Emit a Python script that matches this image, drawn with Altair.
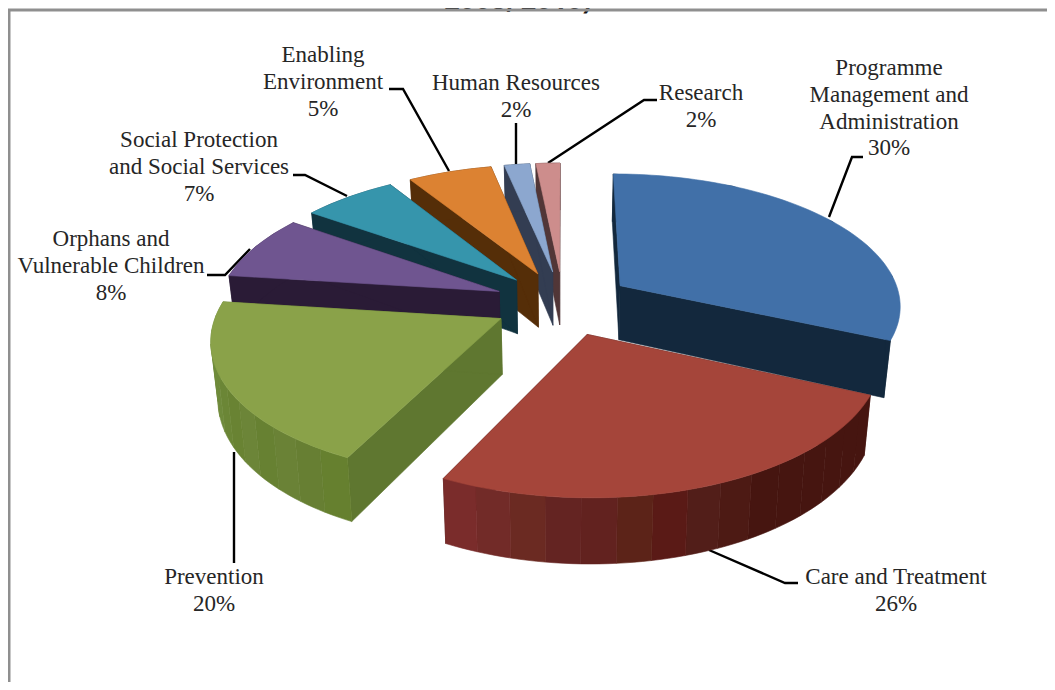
import math
import altair as alt
import pandas as pd

# Slice shares as drawn (in clockwise order from 12 o'clock)
slice_names = ["Programme", "Care", "Prevention", "Orphans", "Social", "Enabling", "Human", "Research"]
slice_shares = [31.7, 25.6, 19.7, 7.8, 6.3, 5.6, 1.7, 1.6]
top_colors = ["#4170a8", "#a5453a", "#8aa249", "#6f5590", "#3695ac", "#dc8232", "#8ca7cf", "#cd8d8c"]
wall_colors = ["#13283d", "#461510", "#5f7730", "#2a1b36", "#11333f", "#552e08", "#333d52", "#513637"]
outer_bands = {
    "Care": ["#461510", "#461510", "#461510", "#461510", "#461510", "#461510", "#4d1a14", "#521e19", "#5a1a16",
             "#5c2318", "#62221f", "#642422", "#6b2a22", "#722b28", "#7a2c2b"],
    "Prevention": ["#66802f", "#677f33", "#6a8236", "#678132", "#6c8538", "#698333", "#6b8636", "#6e8a3b",
                   "#6e8838", "#6f8b3b", "#6f8b3b", "#6f8b3b"],
}
draw_order = ["Research", "Human", "Enabling", "Social", "Orphans", "Programme", "Prevention", "Care"]

# Projection of the tilted pie
CX, CY, AX, BY, PERSP, DEPTH, SHRINK, EXPLODE = 563, 303, 281.5, 131.5, 0.137, 55, 0.98, 0.246


def project(X, Y, bottom=False):
    s = 1 / (1 - PERSP * Y)
    x = AX * X * s
    y = CY + BY * Y * s
    if bottom:
        x *= SHRINK
        y += DEPTH * s
    return CX + x, y


def rad(deg):
    return math.radians(deg)


rows = []
face_id = [0]


def add_face(points, color):
    fid = face_id[0]
    face_id[0] += 1
    for i, (x, y) in enumerate(points):
        rows.append({"x": x, "y": y, "i": i, "face": f"f{fid:03d}", "col": color})


bounds = {}
acc = 0.0
for n, v in zip(slice_names, slice_shares):
    bounds[n] = (acc * 3.6, (acc + v) * 3.6)
    acc += v

for n in draw_order:
    idx = slice_names.index(n)
    a0, a1 = bounds[n]
    mid = rad((a0 + a1) / 2)
    ox, oy = EXPLODE * math.sin(mid), -EXPLODE * math.cos(mid)

    def pt(deg, r=1.0):
        return ox + r * math.sin(rad(deg)), oy - r * math.cos(rad(deg))

    steps = max(2, int((a1 - a0) / 1.5))
    angs = [a0 + (a1 - a0) * k / steps for k in range(steps + 1)]
    for d in (a0, a1):
        add_face([project(ox, oy), project(*pt(d)), project(*pt(d), True), project(ox, oy, True)], wall_colors[idx])
    bands = outer_bands.get(n, [wall_colors[idx]])
    for b, c in enumerate(bands):
        b0 = a0 + (a1 - a0) * b / len(bands)
        b1 = a0 + (a1 - a0) * (b + 1) / len(bands)
        seg = [b0 + (b1 - b0) * k / 4 for k in range(5)]
        add_face([project(*pt(d)) for d in seg] + [project(*pt(d), True) for d in reversed(seg)], c)
    add_face([project(ox, oy)] + [project(*pt(d)) for d in angs], top_colors[idx])

faces = pd.DataFrame(rows)

# Labels
label_x = [889, 896, 214, 111, 199, 323, 516, 701]
label_lines = [
    ["Programme", "Management and", "Administration", "30%"],
    ["Care and Treatment", "26%"],
    ["Prevention", "20%"],
    ["Orphans and", "Vulnerable Children", "8%"],
    ["Social Protection", "and Social Services", "7%"],
    ["Enabling", "Environment", "5%"],
    ["Human Resources", "2%"],
    ["Research", "2%"],
]
label_top = [68, 577, 577, 239, 140, 55, 83, 93]
line_step = 26.8
text_rows = []
for lx, ly, lines in zip(label_x, label_top, label_lines):
    for k, t in enumerate(lines):
        text_rows.append({"x": lx, "y": ly + k * line_step, "t": t})
labels = pd.DataFrame(text_rows)

leaders = [
    [(829, 217), (852, 157), (863, 157)],
    [(709, 550), (785, 583), (798, 583)],
    [(234, 452), (234, 563)],
    [(250, 249), (225, 275), (207, 275)],
    [(347, 196), (305, 175), (293, 175)],
    [(449, 171), (403, 89), (389, 89)],
    [(516, 164), (516, 123)],
    [(548, 163), (644, 100), (657, 100)],
]
lead_rows = []
for j, path in enumerate(leaders):
    for i, (x, y) in enumerate(path):
        lead_rows.append({"x": x, "y": y, "i": i, "leader": j})
lead = pd.DataFrame(lead_rows)

frame = pd.DataFrame({"x": [9, 9, 1047], "y": [682, 10, 10], "i": [0, 1, 2]})
title = pd.DataFrame({"x": [518], "y": [9], "t": ["2008, 2010)"]})

xs = alt.Scale(domain=[8, 1047], range=[0, 1039])
ys = alt.Scale(domain=[682, 8], range=[674, 0])
X = alt.X("x:Q", scale=xs, axis=None)
Y = alt.Y("y:Q", scale=ys, axis=None)

title_layer = alt.Chart(title).mark_text(font="Open Sans", fontWeight="bold", fontSize=27, baseline="alphabetic",
                                         color="#111111").encode(X, Y, text="t:N")
frame_layer = alt.Chart(frame).mark_line(color="#8f8f8f", strokeWidth=3).encode(X, Y, order="i:Q")
pie_layer = alt.Chart(faces).mark_line(strokeWidth=0.6, interpolate="linear-closed").encode(
    X, Y, order="i:Q", detail="face:N",
    color=alt.Color("col:N", scale=None, legend=None),
    fill=alt.Fill("col:N", scale=None, legend=None),
)
lead_layer = alt.Chart(lead).mark_line(color="#000000", strokeWidth=2.4).encode(X, Y, order="i:Q", detail="leader:N")
text_layer = alt.Chart(labels).mark_text(font="Liberation Serif", fontSize=23, color="#262626",
                                         baseline="middle", align="center").encode(X, Y, text="t:N")

chart = alt.layer(title_layer, frame_layer, lead_layer, pie_layer, text_layer).properties(
    width=1039, height=674, padding=0, autosize=alt.AutoSizeParams(type="none"),
).configure_view(stroke=None)

chart.save("out.html", embed_options={"renderer": "svg", "actions": False})
